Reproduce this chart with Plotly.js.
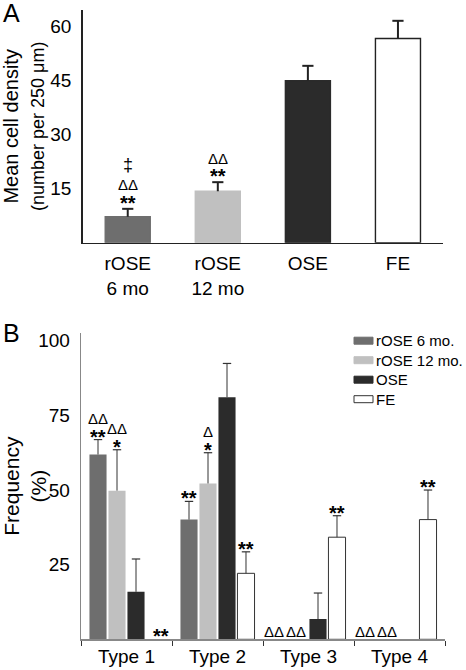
<!DOCTYPE html>
<html><head><meta charset="utf-8">
<script src="https://cdn.plot.ly/plotly-3.0.1.min.js"></script>
<style>html,body{margin:0;padding:0;background:#fff}#chart{width:466px;height:670px}</style>
</head><body><div id="chart"></div>
<script>
// ---- Panel A data ----
const groupsA = ['rOSE<br>6 mo', 'rOSE<br>12 mo', 'OSE', 'FE'];
const densityA = [7.2, 14.3, 45.0, 56.7];
const densityErrA = [2.2, 2.5, 4.1, 4.9];
const colorsA = ['#6e6e6e', '#c0c0c0', '#2b2b2b', '#ffffff'];
const ticksA = [15, 30, 45, 60];
const sigA = [['**', 'ΔΔ', '‡'], ['**', 'ΔΔ'], [], []];

// ---- Panel B data ----
const typesB = ['Type 1', 'Type 2', 'Type 3', 'Type 4'];
const namesB = ['rOSE 6 mo.', 'rOSE 12 mo.', 'OSE', 'FE'];
const rOSE6B = [61.9, 40.1, 0, 0];
const rOSE6ErrB = [5.0, 6.1, 0, 0];
const rOSE12B = [49.8, 52.2, 0, 0];
const rOSE12ErrB = [13.7, 10.3, 0, 0];
const oseB = [15.9, 81.1, 6.8, 0];
const oseErrB = [11.0, 11.3, 8.7, 0];
const feB = [0, 22.1, 34.2, 40.1];
const feErrB = [0, 7.2, 7.2, 9.9];
const colorsB = ['#6e6e6e', '#c0c0c0', '#2b2b2b', '#ffffff'];
const ticksB = [25, 50, 75, 100];
const sigRose6B = [['**', 'ΔΔ'], ['**'], ['ΔΔ'], ['ΔΔ']];
const sigRose12B = [['*', 'ΔΔ'], ['*', 'Δ'], ['ΔΔ'], ['ΔΔ']];
const sigOseB = [[], [], [], []];
const sigFeB = [['**'], ['**'], ['**'], ['**']];

const FONT = 'Liberation Sans, Arial, Helvetica, sans-serif';
const W = 466, H = 670;
const GROUP_FRAC = 0.835;              // share of a group slot taken by its bars
const SLOT = GROUP_FRAC / 4;           // one bar slot (in group units)
const BAR_FRAC = 0.9;                  // bar width inside its slot

const valsB = [rOSE6B, rOSE12B, oseB, feB];
const errsB = [rOSE6ErrB, rOSE12ErrB, oseErrB, feErrB];
const sigsB = [sigRose6B, sigRose12B, sigOseB, sigFeB];
const idxB = typesB.map((t, i) => i);
const boundsB = typesB.map((t, i) => i - 0.5).concat([typesB.length - 0.5]);
const posB = (k, i) => i + (k - 1.5) * SLOT;

const traces = [];
// Panel A bars (vertical error lines only; caps drawn by a marker trace so no cap sits on the bar top)
traces.push({
  type: 'bar', x: groupsA, y: densityA, xaxis: 'x', yaxis: 'y', width: 0.5,
  marker: { color: colorsA, line: { color: ['#6e6e6e', '#c0c0c0', '#2b2b2b', '#222'], width: 1.4 } },
  error_y: { type: 'data', symmetric: false, array: densityErrA, arrayminus: densityErrA.map(() => 0),
             color: '#222', thickness: 2, width: 0 },
  showlegend: false, hoverinfo: 'skip'
});
traces.push({
  type: 'scatter', mode: 'markers', x: groupsA, y: densityA.map((v, i) => v + densityErrA[i]),
  xaxis: 'x', yaxis: 'y', marker: { symbol: 'line-ew', size: 8, line: { color: '#222', width: 2 } },
  showlegend: false, hoverinfo: 'skip', cliponaxis: false
});
// Panel B bars
valsB.forEach((vals, k) => {
  const xs = idxB.map(i => posB(k, i));
  traces.push({
    type: 'bar', name: namesB[k], x: xs, y: vals.map(v => v > 0 ? v : null), xaxis: 'x2', yaxis: 'y2',
    width: SLOT * BAR_FRAC,
    marker: { color: colorsB[k], line: { color: k === 3 ? '#333' : colorsB[k], width: k === 3 ? 1 : 0 } },
    error_y: { type: 'data', symmetric: false,
               array: errsB[k].map((e, i) => vals[i] > 0 ? e : null),
               arrayminus: errsB[k].map(() => 0), color: '#333', thickness: 1, width: 0 },
    showlegend: false, hoverinfo: 'skip'
  });
  traces.push({
    type: 'scatter', mode: 'markers', x: xs,
    y: vals.map((v, i) => v > 0 ? v + errsB[k][i] : null), xaxis: 'x2', yaxis: 'y2',
    marker: { symbol: 'line-ew', size: 6, line: { color: '#333', width: 1.2 } },
    showlegend: false, hoverinfo: 'skip', cliponaxis: false
  });
});

function marks(xref, yref, x, yBase, list, first, xshift) {
  const out = [];
  let shift = first;
  list.forEach((m, k) => {
    if (k > 0) shift += (m === '‡') ? 20 : 13;
    const star = m.indexOf('*') >= 0;
    out.push({
      xref: xref, yref: yref, x: x, y: yBase, showarrow: false,
      xanchor: 'center', yanchor: 'middle', xshift: xshift || 0,
      text: star ? '<b>' + m + '</b>' : m,
      yshift: shift - (star ? 5 : 0),
      font: { family: FONT, size: star ? 20 : (m === '‡' ? 18 : 15), color: '#000' }
    });
  });
  return out;
}

let annotations = [];
sigA.forEach((list, i) => {
  annotations = annotations.concat(marks('x', 'y', i, densityA[i] + densityErrA[i], list, 11));
});
sigsB.forEach((sig, k) => {
  sig.forEach((list, i) => {
    const has = valsB[k][i] > 0;
    const top = has ? valsB[k][i] + errsB[k][i] : 0;
    const xs = has ? 0 : (k === 0 ? -6 : (k === 1 ? -3 : 6));
    annotations = annotations.concat(marks('x2', 'y2', posB(k, i), top, list, 8, xs));
  });
});
annotations.push({ xref: 'paper', yref: 'paper', x: 11 / W, y: 1 - 13.5 / H, text: 'A', showarrow: false,
  xanchor: 'center', yanchor: 'middle', font: { family: FONT, size: 25, color: '#000' } });
annotations.push({ xref: 'paper', yref: 'paper', x: 11 / W, y: 1 - 333 / H, text: 'B', showarrow: false,
  xanchor: 'center', yanchor: 'middle', font: { family: FONT, size: 25, color: '#000' } });

// custom legend (swatches + labels) for panel B
const shapes = [];
namesB.forEach((name, k) => {
  const yc = 340.7 + k * 19.5;
  shapes.push({ type: 'rect', xref: 'paper', yref: 'paper', x0: 354 / W, x1: 373 / W,
    y0: 1 - (yc + 3.5) / H, y1: 1 - (yc - 3.5) / H,
    fillcolor: colorsB[k], line: { color: k === 3 ? '#333' : colorsB[k], width: 1 } });
  annotations.push({ xref: 'paper', yref: 'paper', x: 374 / W, y: 1 - yc / H, text: name, showarrow: false,
    xanchor: 'left', yanchor: 'middle', font: { family: FONT, size: 15, color: '#000' } });
});

const layout = {
  width: W, height: H, margin: { l: 0, r: 0, t: 0, b: 0, pad: 0 },
  paper_bgcolor: '#fff', plot_bgcolor: 'rgba(0,0,0,0)',
  font: { family: FONT, color: '#000' },
  barmode: 'overlay',
  showlegend: false,
  xaxis: { domain: [82.7 / W, 443 / W], anchor: 'y', type: 'category', range: [-0.5, 3.5],
           showline: true, linecolor: '#222', linewidth: 1.6, ticks: '', showgrid: false, zeroline: false,
           tickfont: { size: 19 }, ticklabelstandoff: 3, fixedrange: true },
  yaxis: { domain: [1 - 242.7 / H, 1 - 10 / H], anchor: 'x', range: [0, 64.6],
           tickvals: ticksA, ticktext: ticksA.map(String), showline: true, linecolor: '#222', linewidth: 1.6,
           ticks: '', showgrid: false, zeroline: false, tickfont: { size: 19 }, ticklabelstandoff: 6,
           title: { text: 'Mean cell density<br><span style="font-size:18px">(number per 250 μm)</span>',
                    font: { size: 20 }, standoff: 6 } },
  xaxis2: { domain: [81 / W, 445 / W], anchor: 'y2', type: 'linear', range: [-0.5, 3.5],
            tickvals: idxB, ticktext: typesB,
            showline: true, linecolor: '#888', linewidth: 1.3, ticks: '', showgrid: false, zeroline: false,
            minor: { tickmode: 'array', tickvals: boundsB, ticks: 'outside', ticklen: 5, tickcolor: '#333',
                     tickwidth: 1, showgrid: false },
            tickfont: { size: 19 }, ticklabelstandoff: 0 },
  yaxis2: { domain: [1 - 639.3 / H, 1 - 333 / H], anchor: 'x2', range: [0, 102.6],
            tickvals: ticksB, ticktext: ticksB.map(String), showline: true, linecolor: '#888', linewidth: 1.3,
            ticks: '', showgrid: false, zeroline: false, tickfont: { size: 19 }, ticklabelstandoff: 6,
            title: { text: 'Frequency<br>(%)', font: { size: 21 }, standoff: 6 } },
  shapes: shapes,
  annotations: annotations
};

Plotly.newPlot('chart', traces, layout, { staticPlot: true, displayModeBar: false });
</script>
</body></html>
